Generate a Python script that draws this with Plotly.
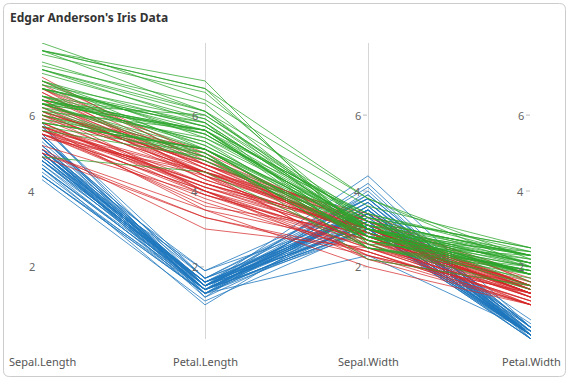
import plotly.graph_objects as go

# ---- data (Edgar Anderson's Iris Data) ----
dimensions = ["Sepal.Length", "Petal.Length", "Sepal.Width", "Petal.Width"]
tick_values = [2, 4, 6]

sepal_length = [
    5.1, 4.9, 4.7, 4.6, 5.0, 5.4, 4.6, 5.0, 4.4, 4.9, 5.4, 4.8, 4.8, 4.3, 5.8, 5.7, 5.4, 5.1, 5.7, 5.1,
    5.4, 5.1, 4.6, 5.1, 4.8, 5.0, 5.0, 5.2, 5.2, 4.7, 4.8, 5.4, 5.2, 5.5, 4.9, 5.0, 5.5, 4.9, 4.4, 5.1,
    5.0, 4.5, 4.4, 5.0, 5.1, 4.8, 5.1, 4.6, 5.3, 5.0,
    7.0, 6.4, 6.9, 5.5, 6.5, 5.7, 6.3, 4.9, 6.6, 5.2, 5.0, 5.9, 6.0, 6.1, 5.6, 6.7, 5.6, 5.8, 6.2, 5.6,
    5.9, 6.1, 6.3, 6.1, 6.4, 6.6, 6.8, 6.7, 6.0, 5.7, 5.5, 5.5, 5.8, 6.0, 5.4, 6.0, 6.7, 6.3, 5.6, 5.5,
    5.5, 6.1, 5.8, 5.0, 5.6, 5.7, 5.7, 6.2, 5.1, 5.7,
    6.3, 5.8, 7.1, 6.3, 6.5, 7.6, 4.9, 7.3, 6.7, 7.2, 6.5, 6.4, 6.8, 5.7, 5.8, 6.4, 6.5, 7.7, 7.7, 6.0,
    6.9, 5.6, 7.7, 6.3, 6.7, 7.2, 6.2, 6.1, 6.4, 7.2, 7.4, 7.9, 6.4, 6.3, 6.1, 7.7, 6.3, 6.4, 6.0, 6.9,
    6.7, 6.9, 5.8, 6.8, 6.7, 6.7, 6.3, 6.5, 6.2, 5.9,
]
sepal_width = [
    3.5, 3.0, 3.2, 3.1, 3.6, 3.9, 3.4, 3.4, 2.9, 3.1, 3.7, 3.4, 3.0, 3.0, 4.0, 4.4, 3.9, 3.5, 3.8, 3.8,
    3.4, 3.7, 3.6, 3.3, 3.4, 3.0, 3.4, 3.5, 3.4, 3.2, 3.1, 3.4, 4.1, 4.2, 3.1, 3.2, 3.5, 3.6, 3.0, 3.4,
    3.5, 2.3, 3.2, 3.5, 3.8, 3.0, 3.8, 3.2, 3.7, 3.3,
    3.2, 3.2, 3.1, 2.3, 2.8, 2.8, 3.3, 2.4, 2.9, 2.7, 2.0, 3.0, 2.2, 2.9, 2.9, 3.1, 3.0, 2.7, 2.2, 2.5,
    3.2, 2.8, 2.5, 2.8, 2.9, 3.0, 2.8, 3.0, 2.9, 2.6, 2.4, 2.4, 2.7, 2.7, 3.0, 3.4, 3.1, 2.3, 3.0, 2.5,
    2.6, 3.0, 2.6, 2.3, 2.7, 3.0, 2.9, 2.9, 2.5, 2.8,
    3.3, 2.7, 3.0, 2.9, 3.0, 3.0, 2.5, 2.9, 2.5, 3.6, 3.2, 2.7, 3.0, 2.5, 2.8, 3.2, 3.0, 3.8, 2.6, 2.2,
    3.2, 2.8, 2.8, 2.7, 3.3, 3.2, 2.8, 3.0, 2.8, 3.0, 2.8, 3.8, 2.8, 2.8, 2.6, 3.0, 3.4, 3.1, 3.0, 3.1,
    3.1, 3.1, 2.7, 3.2, 3.3, 3.0, 2.5, 3.0, 3.4, 3.0,
]
petal_length = [
    1.4, 1.4, 1.3, 1.5, 1.4, 1.7, 1.4, 1.5, 1.4, 1.5, 1.5, 1.6, 1.4, 1.1, 1.2, 1.5, 1.3, 1.4, 1.7, 1.5,
    1.7, 1.5, 1.0, 1.7, 1.9, 1.6, 1.6, 1.5, 1.4, 1.6, 1.6, 1.5, 1.5, 1.4, 1.5, 1.2, 1.3, 1.4, 1.3, 1.5,
    1.3, 1.3, 1.3, 1.6, 1.9, 1.4, 1.6, 1.4, 1.5, 1.4,
    4.7, 4.5, 4.9, 4.0, 4.6, 4.5, 4.7, 3.3, 4.6, 3.9, 3.5, 4.2, 4.0, 4.7, 3.6, 4.4, 4.5, 4.1, 4.5, 3.9,
    4.8, 4.0, 4.9, 4.7, 4.3, 4.4, 4.8, 5.0, 4.5, 3.5, 3.8, 3.7, 3.9, 5.1, 4.5, 4.5, 4.7, 4.4, 4.1, 4.0,
    4.4, 4.6, 4.0, 3.3, 4.2, 4.2, 4.2, 4.3, 3.0, 4.1,
    6.0, 5.1, 5.9, 5.6, 5.8, 6.6, 4.5, 6.3, 5.8, 6.1, 5.1, 5.3, 5.5, 5.0, 5.1, 5.3, 5.5, 6.7, 6.9, 5.0,
    5.7, 4.9, 6.7, 4.9, 5.7, 6.0, 4.8, 4.9, 5.6, 5.8, 6.1, 6.4, 5.6, 5.1, 5.6, 6.1, 5.6, 5.5, 4.8, 5.4,
    5.6, 5.1, 5.1, 5.9, 5.7, 5.2, 5.0, 5.2, 5.4, 5.1,
]
petal_width = [
    0.2, 0.2, 0.2, 0.2, 0.2, 0.4, 0.3, 0.2, 0.2, 0.1, 0.2, 0.2, 0.1, 0.1, 0.2, 0.4, 0.4, 0.3, 0.3, 0.3,
    0.2, 0.4, 0.2, 0.5, 0.2, 0.2, 0.4, 0.2, 0.2, 0.2, 0.2, 0.4, 0.1, 0.2, 0.2, 0.2, 0.2, 0.1, 0.2, 0.2,
    0.3, 0.3, 0.2, 0.6, 0.4, 0.3, 0.2, 0.2, 0.2, 0.2,
    1.4, 1.5, 1.5, 1.3, 1.5, 1.3, 1.6, 1.0, 1.3, 1.4, 1.0, 1.5, 1.0, 1.4, 1.3, 1.4, 1.5, 1.0, 1.5, 1.1,
    1.8, 1.3, 1.5, 1.2, 1.3, 1.4, 1.4, 1.7, 1.5, 1.0, 1.1, 1.0, 1.2, 1.6, 1.5, 1.6, 1.5, 1.3, 1.3, 1.3,
    1.2, 1.4, 1.2, 1.0, 1.3, 1.2, 1.3, 1.3, 1.1, 1.3,
    2.5, 1.9, 2.1, 1.8, 2.2, 2.1, 1.7, 1.8, 1.8, 2.5, 2.0, 1.9, 2.1, 2.0, 2.4, 2.3, 1.8, 2.2, 2.3, 1.5,
    2.3, 2.0, 2.0, 1.8, 2.1, 1.8, 1.8, 1.8, 2.1, 1.6, 1.9, 2.0, 2.2, 1.5, 1.4, 2.3, 2.4, 1.8, 1.8, 2.1,
    2.4, 2.3, 1.9, 2.3, 2.5, 2.3, 1.9, 2.0, 2.3, 1.8,
]
species = ["setosa"] * 50 + ["versicolor"] * 50 + ["virginica"] * 50

species_colors = {
    "setosa": "rgba(31,119,190,0.78)",
    "versicolor": "rgba(214,39,40,0.72)",
    "virginica": "rgba(44,165,44,0.75)",
}

# ---- layout geometry ----
W, H = 569, 380
ML, MR, MT, MB = 42, 38, 43, 41
PW, PH = W - ML - MR, H - MT - MB


def px_x(p):
    return (p - ML) / PW


def px_y(p):
    return 1 - (p - MT) / PH


fig = go.Figure()

xs = list(range(len(dimensions)))
for i in range(len(species)):
    ys = [sepal_length[i], petal_length[i], sepal_width[i], petal_width[i]]
    fig.add_trace(go.Scatter(
        x=xs, y=ys, mode="lines",
        line=dict(color=species_colors[species[i]], width=1),
        showlegend=False, hoverinfo="skip",
    ))

annotations = []
shapes = []
for j, name in enumerate(dimensions):
    annotations.append(dict(
        x=j, xref="x", y=0, yref="paper", text=name, showarrow=False,
        xanchor="center", yanchor="middle", yshift=-22,
        font=dict(size=11, color="#555555"),
    ))
    for v in tick_values:
        annotations.append(dict(
            x=j, xref="x", y=v, yref="y", text=str(v), showarrow=False,
            xanchor="right", yanchor="middle", xshift=-5,
            font=dict(size=11, color="#666666"),
        ))
        shapes.append(dict(
            type="line", xref="x", yref="y", xsizemode="pixel", xanchor=j,
            x0=-5, x1=-1, y0=v, y1=v, line=dict(color="#bbbbbb", width=1), layer="below",
        ))

# card border with rounded corners
x0, x1 = px_x(3.5), px_x(565.5)
y0, y1 = px_y(376.5), px_y(3.5)
rx, ry = 6 / PW, 6 / PH
path = (
    f"M{x0 + rx},{y1} L{x1 - rx},{y1} Q{x1},{y1} {x1},{y1 - ry} "
    f"L{x1},{y0 + ry} Q{x1},{y0} {x1 - rx},{y0} "
    f"L{x0 + rx},{y0} Q{x0},{y0} {x0},{y0 + ry} "
    f"L{x0},{y1 - ry} Q{x0},{y1} {x0 + rx},{y1} Z"
)
shapes.append(dict(type="path", xref="paper", yref="paper", path=path,
                   line=dict(color="#cccccc", width=1), layer="below"))

fig.update_layout(
    width=W, height=H,
    margin=dict(l=ML, r=MR, t=MT, b=MB),
    paper_bgcolor="white", plot_bgcolor="white",
    font=dict(family="Noto Sans, Open Sans, sans-serif"),
    title=dict(text="<b>Edgar Anderson's Iris Data</b>", x=10 / W, xref="container", xanchor="left",
               y=1 - 18 / H, yref="container", yanchor="middle",
               font=dict(size=12, color="#333333")),
    xaxis=dict(range=[0, 3], tickvals=xs, showticklabels=False, showgrid=True,
               gridcolor="#d6d6d6", gridwidth=1, zeroline=False, showline=False, ticks="",
               fixedrange=True),
    yaxis=dict(range=[0.1, 7.9], showgrid=False, showticklabels=False, zeroline=False,
               showline=False, ticks="", fixedrange=True),
    annotations=annotations,
    shapes=shapes,
)

fig.write_html(
    "out.html",
    config={"displayModeBar": False},
    post_script="document.body.style.margin='0';document.body.style.overflow='hidden';",
)
